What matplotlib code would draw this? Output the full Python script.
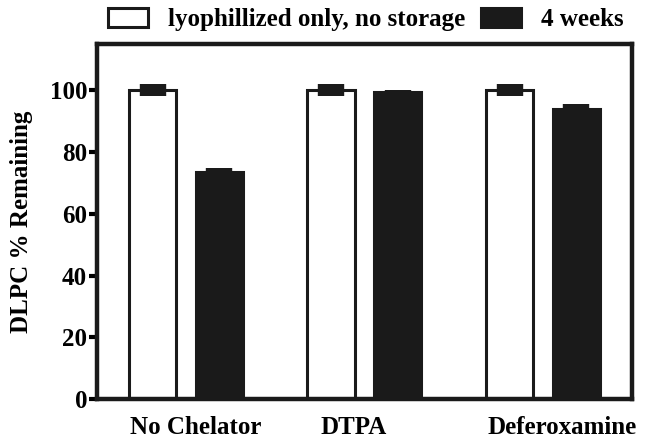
import numpy as np
import matplotlib
matplotlib.use("Agg")
import matplotlib.pyplot as plt

plt.rcParams['font.family'] = ['Liberation Serif', 'DejaVu Serif']
plt.rcParams['font.weight'] = 'bold'

categories = ["No Chelator", "DTPA", "Deferoxamine"]
fresh = [100.0, 100.0, 100.0]
fresh_err = [2.0, 2.0, 2.0]
stored = [73.5, 99.5, 93.8]
stored_err = [1.3, 0.6, 1.8]
series_names = ["lyophillized only, no storage", "4 weeks"]

fig = plt.figure(figsize=(6.45, 4.4), dpi=100)
ax = fig.add_axes([0.150, 0.093, 0.830, 0.807])

x = np.arange(len(categories))
off = 0.187
w = 0.265

b1 = ax.bar(x - off, fresh, w, color='white', edgecolor='#1a1a1a', linewidth=2.2,
            label=series_names[0], zorder=2)
b2 = ax.bar(x + off, stored, w, color='#1a1a1a', edgecolor='#1a1a1a', linewidth=2.2,
            label=series_names[1], zorder=2)

for xs, vals, errs in [(x - off, fresh, fresh_err), (x + off, stored, stored_err)]:
    ax.errorbar(xs, vals, yerr=errs, fmt='none', ecolor='#1a1a1a',
                elinewidth=19, capsize=0, zorder=3)

ax.set_xlim(-0.5, 2.5)
ax.set_ylim(0, 115)
ax.set_yticks([0, 20, 40, 60, 80, 100])
ax.set_ylabel("DLPC % Remaining", fontsize=18, fontweight='bold', labelpad=12)

# category labels sit a little right of the group centres in the original
ax.set_xticks([0.057, 0.94, 2.11])
ax.set_xticklabels(categories, fontsize=18, fontweight='bold')
ax.tick_params(axis='x', length=0, pad=12)
ax.tick_params(axis='y', direction='out', length=6, width=3, labelsize=18, pad=1)

for s in ax.spines.values():
    s.set_linewidth(3.2)
    s.set_color('#1a1a1a')

fig.legend(handles=[b1, b2], labels=series_names, loc='center', ncol=2,
           bbox_to_anchor=(0.567, 0.955), frameon=False, fontsize=18,
           handlelength=1.6, handleheight=0.8, handletextpad=0.8, columnspacing=0.6)

fig.savefig("out.png", dpi=100)
